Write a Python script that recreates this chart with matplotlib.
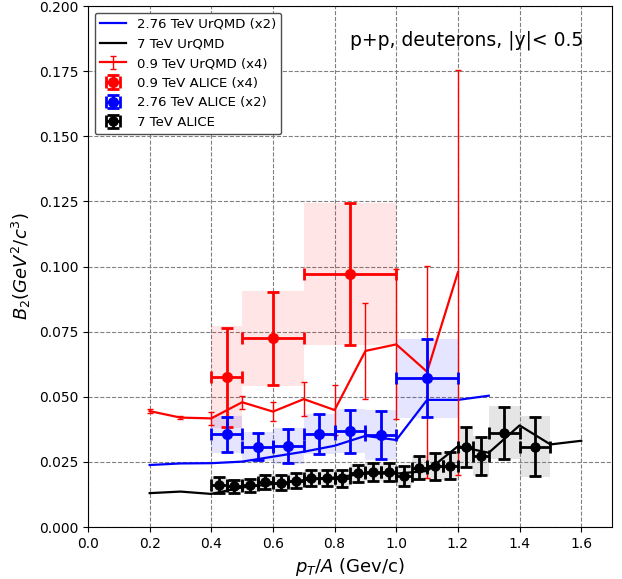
import matplotlib
matplotlib.use('Agg')
import matplotlib.pyplot as plt
from matplotlib.patches import Rectangle
import numpy as np

# UrQMD curves
urqmd_x_276 = [0.2, 0.3, 0.4, 0.5, 0.6, 0.7, 0.8, 0.9, 1.0, 1.1, 1.2, 1.3]
urqmd_y_276 = [0.0238, 0.0244, 0.0245, 0.0251, 0.0270, 0.0289, 0.0312, 0.0350, 0.0334, 0.0488, 0.0488, 0.0504]

urqmd_x_7 = [0.2, 0.3, 0.4, 0.5, 0.6, 0.7, 0.8, 0.9, 1.0, 1.1, 1.2, 1.3, 1.4, 1.5, 1.6]
urqmd_y_7 = [0.0130, 0.0136, 0.0127, 0.0152, 0.0165, 0.0180, 0.0190, 0.0205, 0.0205, 0.0215, 0.0310, 0.0285, 0.0390, 0.0317, 0.0331]

urqmd_x_09 = [0.2, 0.3, 0.4, 0.5, 0.6, 0.7, 0.8, 0.9, 1.0, 1.1, 1.2]
urqmd_y_09 = [0.0445, 0.0420, 0.0417, 0.0479, 0.0443, 0.0491, 0.0449, 0.0676, 0.0701, 0.0596, 0.0978]
urqmd_e_09 = [0.0008, 0.0007, 0.0025, 0.0025, 0.0037, 0.0065, 0.0096, 0.0183, 0.0288, 0.0406, 0.0777]

# ALICE 0.9 TeV (x4)
alice_x_09 = [0.45, 0.6, 0.85]
alice_xe_09 = [0.05, 0.1, 0.15]
alice_y_09 = [0.0575, 0.0724, 0.0971]
alice_stat_09 = [0.019, 0.018, 0.0272]
alice_sys_09 = [0.0195, 0.0183, 0.0273]

# ALICE 2.76 TeV (x2)
alice_x_276 = [0.45, 0.55, 0.65, 0.75, 0.85, 0.95, 1.1]
alice_xe_276 = [0.05, 0.05, 0.05, 0.05, 0.05, 0.05, 0.1]
alice_y_276 = [0.0356, 0.0308, 0.0311, 0.0357, 0.0368, 0.0353, 0.0571]
alice_stat_276 = [0.0067, 0.0052, 0.0065, 0.0076, 0.0082, 0.0092, 0.0150]
alice_sys_276 = [0.0070, 0.0055, 0.0070, 0.0078, 0.0085, 0.0095, 0.0152]

# ALICE 7 TeV
alice_x_7 = [0.425, 0.475, 0.525, 0.575, 0.625, 0.675, 0.725, 0.775, 0.825, 0.875,
             0.925, 0.975, 1.025, 1.075, 1.125, 1.175, 1.225, 1.275, 1.35, 1.45]
alice_xe_7 = [0.025] * 18 + [0.05, 0.05]
alice_y_7 = [0.0161, 0.0157, 0.0161, 0.0174, 0.0170, 0.0178, 0.0189, 0.0189, 0.0187, 0.0206,
             0.0212, 0.0210, 0.0197, 0.0228, 0.0234, 0.0235, 0.0308, 0.0273, 0.0362, 0.0308]
alice_stat_7 = [0.0031, 0.0025, 0.0025, 0.0027, 0.0028, 0.0029, 0.0030, 0.0031, 0.0032, 0.0033,
                0.0034, 0.0035, 0.0038, 0.0043, 0.0052, 0.0052, 0.0076, 0.0074, 0.0100, 0.0113]
alice_sys_7 = [0.0030, 0.0026, 0.0026, 0.0028, 0.0029, 0.0030, 0.0031, 0.0032, 0.0033, 0.0034,
               0.0035, 0.0036, 0.0039, 0.0044, 0.0053, 0.0053, 0.0078, 0.0076, 0.0102, 0.0117]

fig = plt.figure(figsize=(6.22, 5.79), dpi=100)
ax = fig.add_axes([0.1415, 0.0898, 0.8425, 0.8998])


def sys_boxes(xs, xes, ys, ss, col, a):
    for x, xe, y, s in zip(xs, xes, ys, ss):
        ax.add_patch(Rectangle((x - xe, y - s), 2 * xe, 2 * s, facecolor=col,
                               edgecolor='none', alpha=a, zorder=1))


sys_boxes(alice_x_09, alice_xe_09, alice_y_09, alice_sys_09, 'red', 0.1)
sys_boxes(alice_x_276, alice_xe_276, alice_y_276, alice_sys_276, 'blue', 0.1)
sys_boxes(alice_x_7, alice_xe_7, alice_y_7, alice_sys_7, 'gray', 0.2)

ax.plot(urqmd_x_276, urqmd_y_276, color='blue', lw=1.6, label='2.76 TeV UrQMD (x2)', zorder=3)
ax.plot(urqmd_x_7, urqmd_y_7, color='black', lw=1.6, label='7 TeV UrQMD', zorder=3)
ax.errorbar(urqmd_x_09, urqmd_y_09, yerr=urqmd_e_09, color='red', lw=1.6, elinewidth=1,
            capsize=2.5, label='0.9 TeV UrQMD (x4)', zorder=3)

ax.errorbar(alice_x_09, alice_y_09, xerr=alice_xe_09, yerr=alice_stat_09, fmt='o', color='red',
            ms=7, elinewidth=2, capsize=4, capthick=2, label='0.9 TeV ALICE (x4)', zorder=4)
ax.errorbar(alice_x_276, alice_y_276, xerr=alice_xe_276, yerr=alice_stat_276, fmt='o', color='blue',
            ms=7, elinewidth=2, capsize=4, capthick=2, label='2.76 TeV ALICE (x2)', zorder=4)
ax.errorbar(alice_x_7, alice_y_7, xerr=alice_xe_7, yerr=alice_stat_7, fmt='o', color='black',
            ms=6.5, elinewidth=2, capsize=4, capthick=2, label='7 TeV ALICE', zorder=4)

ax.set_xlim(0, 1.7)
ax.set_ylim(0, 0.2)
ax.set_xticks(np.arange(0, 1.61, 0.2))
ax.set_yticks(np.arange(0, 0.2001, 0.025))
ax.grid(True, linestyle='--', color='gray', lw=0.8, zorder=0)
ax.set_axisbelow(True)

ax.set_xlabel('$p_T/A$ (Gev/c)', fontsize=13)
ax.set_ylabel('$B_2 (GeV^2/c^3)$', fontsize=13)
ax.text(0.945, 0.935, 'p+p, deuterons, |y|< 0.5', transform=ax.transAxes,
        ha='right', va='center', fontsize=13.5)

leg = ax.legend(loc='upper left', fontsize=9.5, framealpha=1, edgecolor='0.3')

fig.savefig('out.png', dpi=100)
